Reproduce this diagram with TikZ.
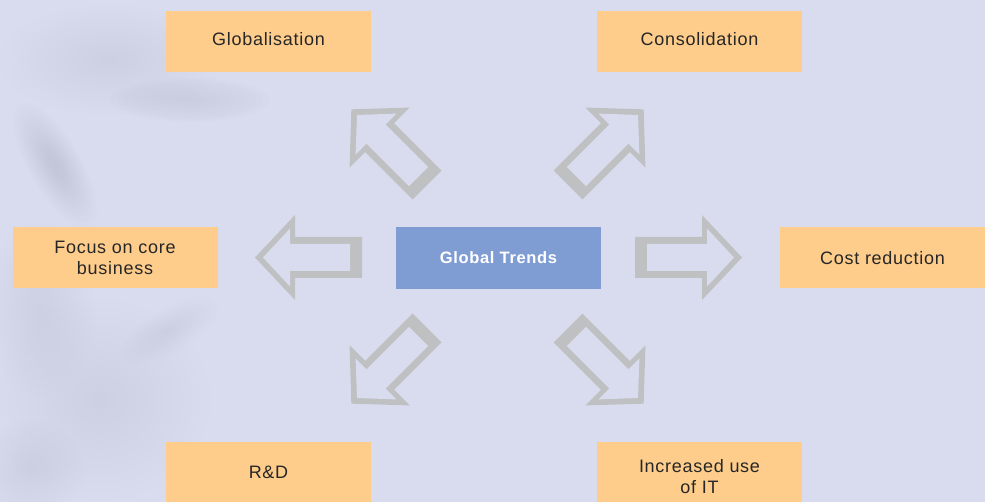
\documentclass[tikz,border=0pt]{standalone}
\usepackage{fontspec}
\setmainfont{Liberation Sans}[LetterSpace=4]

\definecolor{pagebg}{RGB}{217,220,238}
\definecolor{smoke}{RGB}{170,173,190}
\definecolor{trendbox}{RGB}{254,205,140}
\definecolor{centrebox}{RGB}{128,157,211}
\definecolor{arrowgrey}{RGB}{191,192,194}
\definecolor{labeltext}{RGB}{38,38,38}

\tikzset{
  trend/.style={fill=trendbox, text=labeltext, minimum width=205, minimum height=61,
    inner sep=0pt, align=center, font=\fontsize{18}{21}\selectfont},
  centre/.style={fill=centrebox, text=white, minimum width=205, minimum height=62,
    inner sep=0pt, align=center, font=\fontsize{16.5}{20}\selectfont\bfseries},
  caption/.style={text=labeltext, inner sep=0pt, align=center,
    font=\fontsize{18}{21}\selectfont},
}

% hollow block arrow: tail centre at #1, pointing at angle #2
\newcommand\hollowarrow[2]{%
  \begin{scope}[shift={#1}, rotate=#2]
    \fill[arrowgrey] (0,-20.5) -- (67,-20.5) -- (67,-42.5) -- (107,0)
      -- (67,42.5) -- (67,20.5) -- (0,20.5) -- cycle;
    \fill[pagebg] (12,-13.5) -- (72,-13.5) -- (72,-29) -- (99,0)
      -- (72,29) -- (72,13.5) -- (12,13.5) -- cycle;
  \end{scope}}

% soft smoke puff: centre #1, radii #2 and #3, angle #4, strength #5
\newcommand\smokepuff[5]{%
  \foreach \k in {1,...,12}{%
    \fill[smoke, opacity=#5, rotate around={#4:#1}]
      #1 ellipse [x radius={#2*\k/12}, y radius={#3*\k/12}];
  }}

\begin{document}
\begin{tikzpicture}[x=1pt, y=-1pt]
  \useasboundingbox (0,0) rectangle (985,502);
  \fill[pagebg] (0,0) rectangle (985,502);

  % soft smoke along the left edge
  \smokepuff{(55,165)}{70}{26}{-60}{.035}
  \smokepuff{(190,100)}{80}{22}{0}{.025}
  \smokepuff{(110,60)}{110}{55}{0}{.015}
  \smokepuff{(40,310)}{55}{85}{0}{.02}
  \smokepuff{(100,400)}{110}{100}{0}{.018}
  \smokepuff{(30,470)}{55}{50}{0}{.02}
  \smokepuff{(170,330)}{55}{22}{30}{.02}

  % block arrows around the centre
  \hollowarrow{(635,257.5)}{0}
  \hollowarrow{(362,257.5)}{180}
  \hollowarrow{(427,185)}{135}
  \hollowarrow{(568,185)}{45}
  \hollowarrow{(427,328)}{225}
  \hollowarrow{(568,328)}{315}

  % boxes
  \node[centre] (core) at (498.5,258) {Global Trends};
  \node[trend] (glob) at (268.5,41.5) {};
  \node[caption] (globlabel) at ([yshift=2pt]glob.center) {Globalisation};
  \node[trend] (cons) at (699.5,41.5) {};
  \node[caption] (conslabel) at ([yshift=2pt]cons.center) {Consolidation};
  \node[trend] (focus) at (115,258) {Focus on core\\business};
  \node[trend] (cost) at (882.5,258) {Cost reduction};
  \node[trend] (rnd) at (268.5,472.5) {R\&D};
  \node[trend] (it) at (699.5,472.5) {};
  \node[caption] (itlabel) at ([yshift=-4pt]it.center) {Increased use\\of IT};
\end{tikzpicture}
\end{document}
